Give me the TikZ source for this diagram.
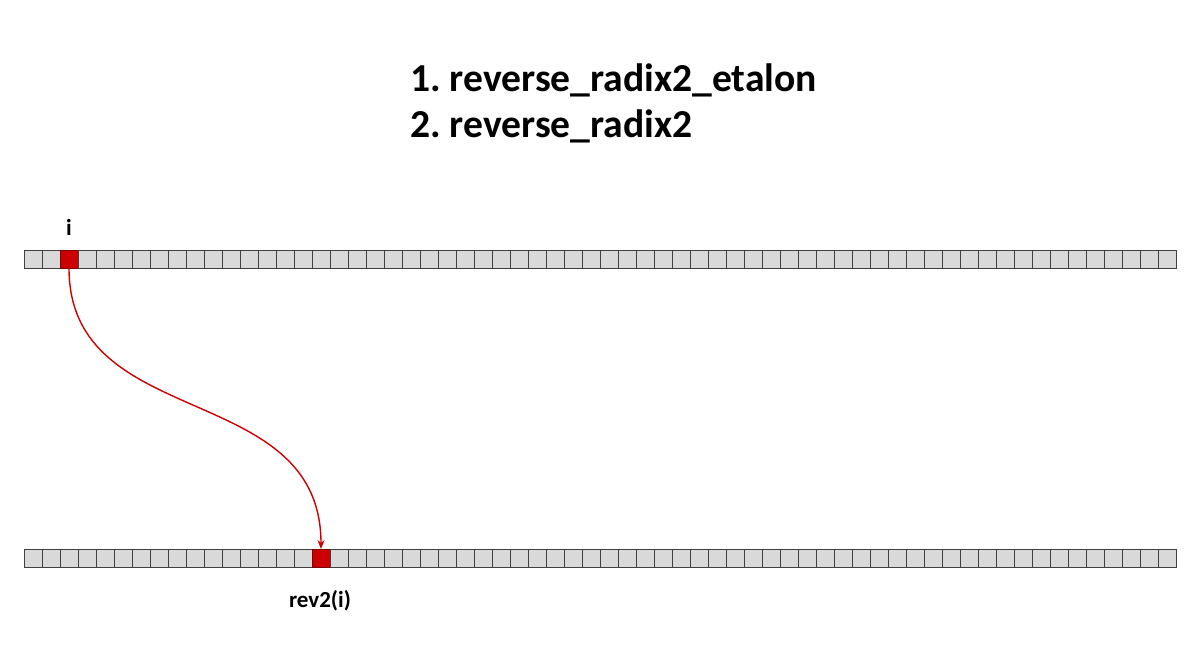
\documentclass[tikz,border=0pt]{standalone}
\usepackage{fontspec}
\setmainfont{Carlito}
\usetikzlibrary{arrows.meta}
\definecolor{cellfill}{HTML}{D9D9D9}
\definecolor{cellline}{HTML}{404040}
\definecolor{hot}{HTML}{CC0000}
\definecolor{hotline}{HTML}{7F0000}
\frenchspacing
\begin{document}
\begin{tikzpicture}[x=1pt,y=-1pt,
  cell/.style={draw=cellline,fill=cellfill,line width=1pt,minimum width=18pt,minimum height=18pt,inner sep=0pt,outer sep=0pt,anchor=north west},
  hotcell/.style={cell,fill=hot,draw=hotline},
  lbl/.style={font=\bfseries\fontsize{23}{27}\selectfont,inner sep=0pt},
  title/.style={font=\bfseries\fontsize{39.6}{46}\selectfont,inner sep=0pt,anchor=base west},
  link/.style={draw=hot,line width=1.4pt,-{Stealth[length=9pt,width=7pt]}}]
\useasboundingbox (0,0) rectangle (1200,650);
\node[title] (t1) at (410,92) {1. reverse\_radix2\_etalon};
\node[title] (t2) at (410,138) {2. reverse\_radix2};
\foreach \k in {0,...,63} {
  \ifnum\k=2
    \node[hotcell] (a\k) at ({24+18*\k},250) {};
  \else
    \node[cell] (a\k) at ({24+18*\k},250) {};
  \fi
  \ifnum\k=16
    \node[hotcell] (b\k) at ({24+18*\k},549) {};
  \else
    \node[cell] (b\k) at ({24+18*\k},549) {};
  \fi
}
\node[lbl,anchor=base] (li) at (69,235) {i};
\node[lbl,anchor=base] (lr) at (320,607) {rev2(i)};
\draw[link] (a2.south) .. controls ([yshift=-165pt]a2.south) and ([yshift=170pt]b16.north) .. (b16.north);
\end{tikzpicture}
\end{document}
